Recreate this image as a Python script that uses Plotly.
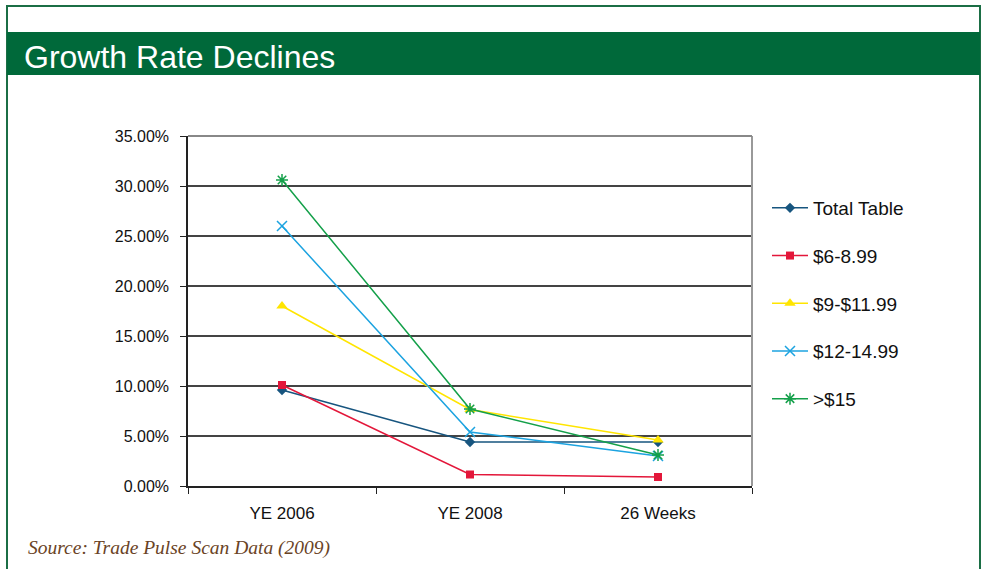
import plotly.graph_objects as go

categories = ["YE 2006", "YE 2008", "26 Weeks"]
series_names = ["Total Table", "$6-8.99", "$9-$11.99", "$12-14.99", ">$15"]
total_table = [0.096, 0.044, 0.044]
s6_899 = [0.101, 0.0115, 0.009]
s9_1199 = [0.180, 0.0765, 0.046]
s12_1499 = [0.260, 0.054, 0.030]
s15 = [0.306, 0.077, 0.031]
y_ticks = [0, 0.05, 0.10, 0.15, 0.20, 0.25, 0.30, 0.35]

W, H = 983, 569
L, R, T, B = 188, 752, 136, 486

def px(x):
    return (x - L) / (R - L)

def py(y):
    return (B - y) / (B - T)

styles = [
    dict(color="#17557f", symbol="diamond", size=8, line=None),
    dict(color="#e3173a", symbol="square", size=8, line=None),
    dict(color="#ffe500", symbol="triangle-up", size=10, line=None),
    dict(color="#1ca3e0", symbol="x-thin", size=10, line=1.5),
    dict(color="#14a04a", symbol="asterisk", size=10, line=1.5),
]
data = [total_table, s6_899, s9_1199, s12_1499, s15]

fig = go.Figure()
for name, vals, st in zip(series_names, data, styles):
    marker = dict(symbol=st["symbol"], size=st["size"], color=st["color"])
    if st["line"]:
        marker["line"] = dict(color=st["color"], width=st["line"])
    fig.add_trace(go.Scatter(
        x=categories, y=vals, name=name, mode="lines+markers",
        line=dict(color=st["color"], width=1.5), marker=marker,
        legendgroup=name,
    ))

shapes = [
    # outer frame
    dict(type="rect", xref="paper", yref="paper", x0=px(7), x1=px(980), y0=py(580), y1=py(6),
         line=dict(color="#1b6e45", width=2), fillcolor="rgba(0,0,0,0)", layer="below"),
    # title banner
    dict(type="rect", xref="paper", yref="paper", x0=px(7), x1=px(980), y0=py(75), y1=py(32),
         line=dict(width=0), fillcolor="#00693a", layer="below"),
    # right border of plot area
    dict(type="line", xref="paper", yref="paper", x0=1, x1=1, y0=0, y1=1,
         line=dict(color="#999999", width=2)),
    # top border of plot area
    dict(type="line", xref="paper", yref="paper", x0=0, x1=1, y0=1, y1=1,
         line=dict(color="#888888", width=2)),
]

fig.update_layout(
    width=W, height=H,
    margin=dict(l=L, r=W - R, t=T, b=H - B),
    paper_bgcolor="white", plot_bgcolor="white",
    font=dict(family="Liberation Sans, Arial, sans-serif", color="#111111"),
    showlegend=True,
    legend=dict(x=px(767), y=py(189), xanchor="left", yanchor="top",
                font=dict(size=19, color="#111111"), tracegroupgap=20,
                bgcolor="rgba(0,0,0,0)", itemwidth=36),
    shapes=shapes,
    annotations=[
        dict(text="Growth Rate Declines", xref="paper", yref="paper", x=px(22), y=py(57),
             xanchor="left", yanchor="middle", showarrow=False,
             font=dict(size=32, color="white", family="Liberation Sans, Arial, sans-serif")),
        dict(text="<i>Source: Trade Pulse Scan Data (2009)</i>", xref="paper", yref="paper",
             x=px(26), y=py(548), xanchor="left", yanchor="middle", showarrow=False,
             font=dict(size=19.5, color="#6a4325", family="Liberation Serif, Times New Roman, serif")),
    ],
)
fig.update_xaxes(type="category", range=[-0.5, 2.5], showline=True, linecolor="#222222",
                 linewidth=1.5, ticks="outside", tickson="boundaries", ticklen=6,
                 tickcolor="#222222", showgrid=False, tickfont=dict(size=17),
                 ticklabelstandoff=11, fixedrange=True)
fig.update_yaxes(range=[0, 0.35], tickvals=y_ticks, tickformat=".2%", showline=True,
                 linecolor="#222222", linewidth=1.5, ticks="outside", ticklen=6,
                 tickcolor="#222222", showgrid=True, gridcolor="#444444", gridwidth=1.5,
                 zeroline=False, tickfont=dict(size=16), ticklabelstandoff=8, fixedrange=True)

fig.write_html("out.html")
